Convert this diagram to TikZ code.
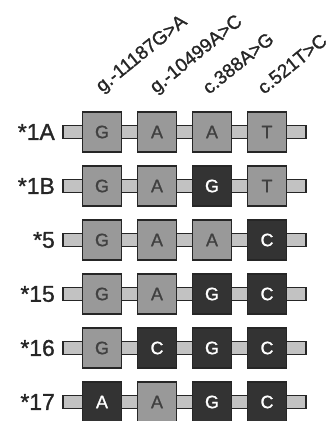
\documentclass[tikz,border=0pt]{standalone}
\usepackage{fontspec}
\setmainfont{Liberation Sans}
\newfontfamily\heavyfont[FakeBold=1.2]{Liberation Sans}
\usetikzlibrary{positioning}
\definecolor{snplight}{gray}{0.6}
\definecolor{snpdark}{gray}{0.2}
\definecolor{barfill}{gray}{0.76}

\begin{document}
\begin{tikzpicture}[x=1bp, y=-1bp,
  snp/.style={draw=black!85, line width=1.5pt, minimum width=39bp, minimum height=40bp, inner sep=0pt, font=\heavyfont\fontsize{18}{18}\selectfont},
  wt/.style={snp, fill=snplight, text=black!75},
  var/.style={snp, fill=snpdark, text=white},
  allele/.style={font=\heavyfont\fontsize{23}{23}\selectfont, anchor=east, inner sep=0pt, text=black!85},
  site/.style={font=\heavyfont\fontsize{19}{19}\selectfont, rotate=39, anchor=base west, inner sep=0pt, text=black!85},
  bar/.style={draw=black!85, line width=1.5pt, fill=barfill}]
  \useasboundingbox (0,0) rectangle (334,421);
  % variant sites
  \node[site] (s1) at (102,93) {g.-11187G>A};
  \node[site] (s2) at (156,94) {g.-10499A>C};
  \node[site] (s3) at (209,95) {c.388A>G};
  \node[site] (s4) at (264,95) {c.521T>C};
  % *1A
  \begin{scope}[shift={(0,132)}]
    \node[allele] (h1A) at (55,0) {*1A};
    \draw[bar] (63,-6.5) rectangle (306,6.5);
    \node[wt] (h1A-1) at (102,0) {G};
    \node[wt] (h1A-2) at (157,0) {A};
    \node[wt] (h1A-3) at (212,0) {A};
    \node[wt] (h1A-4) at (267,0) {T};
  \end{scope}
  % *1B
  \begin{scope}[shift={(0,186)}]
    \node[allele] (h1B) at (55,0) {*1B};
    \draw[bar] (63,-6.5) rectangle (306,6.5);
    \node[wt] (h1B-1) at (102,0) {G};
    \node[wt] (h1B-2) at (157,0) {A};
    \node[var] (h1B-3) at (212,0) {G};
    \node[wt] (h1B-4) at (267,0) {T};
  \end{scope}
  % *5
  \begin{scope}[shift={(0,240)}]
    \node[allele] (h5) at (55,0) {*5};
    \draw[bar] (63,-6.5) rectangle (306,6.5);
    \node[wt] (h5-1) at (102,0) {G};
    \node[wt] (h5-2) at (157,0) {A};
    \node[wt] (h5-3) at (212,0) {A};
    \node[var] (h5-4) at (267,0) {C};
  \end{scope}
  % *15
  \begin{scope}[shift={(0,294)}]
    \node[allele] (h15) at (55,0) {*15};
    \draw[bar] (63,-6.5) rectangle (306,6.5);
    \node[wt] (h15-1) at (102,0) {G};
    \node[wt] (h15-2) at (157,0) {A};
    \node[var] (h15-3) at (212,0) {G};
    \node[var] (h15-4) at (267,0) {C};
  \end{scope}
  % *16
  \begin{scope}[shift={(0,348)}]
    \node[allele] (h16) at (55,0) {*16};
    \draw[bar] (63,-6.5) rectangle (306,6.5);
    \node[wt] (h16-1) at (102,0) {G};
    \node[var] (h16-2) at (157,0) {C};
    \node[var] (h16-3) at (212,0) {G};
    \node[var] (h16-4) at (267,0) {C};
  \end{scope}
  % *17
  \begin{scope}[shift={(0,402)}]
    \node[allele] (h17) at (55,0) {*17};
    \draw[bar] (63,-6.5) rectangle (306,6.5);
    \node[var] (h17-1) at (102,0) {A};
    \node[wt] (h17-2) at (157,0) {A};
    \node[var] (h17-3) at (212,0) {G};
    \node[var] (h17-4) at (267,0) {C};
  \end{scope}
\end{tikzpicture}
\end{document}
